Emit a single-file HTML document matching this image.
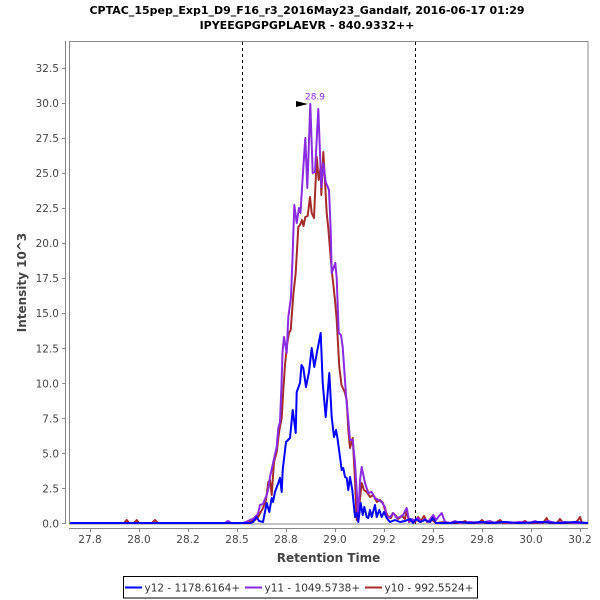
<!DOCTYPE html>
<html>
<head>
<meta charset="utf-8">
<style>
  html, body { margin:0; padding:0; background:#fff; }
  svg { display:block; }
  text { font-family: "DejaVu Sans", "Liberation Sans", sans-serif; }
</style>
</head>
<body>
<svg width="600" height="600" viewBox="0 0 600 600" xmlns="http://www.w3.org/2000/svg">
  <rect x="0" y="0" width="600" height="600" fill="#fff"/>

  <!-- Titles -->
  <text x="307" y="14" text-anchor="middle" font-size="11" font-weight="bold" fill="#000">CPTAC_15pep_Exp1_D9_F16_r3_2016May23_Gandalf, 2016-06-17 01:29</text>
  <text x="307" y="29" text-anchor="middle" font-size="11" font-weight="bold" fill="#000">IPYEEGPGPGPLAEVR - 840.9332++</text>

  <!-- plot outline -->
  <rect x="69.5" y="41.5" width="518.5" height="482.5" fill="#fff" stroke="#888" stroke-width="1"/>

  <!-- axis lines -->
  <line x1="65.5" y1="41" x2="65.5" y2="524" stroke="#888" stroke-width="1"/>
  <line x1="69" y1="528.5" x2="588" y2="528.5" stroke="#888" stroke-width="1"/>

  <!-- Y ticks -->
  <g stroke="#888" stroke-width="1">
    <line x1="62" y1="523.5" x2="65" y2="523.5"/>
    <line x1="62" y1="488.5" x2="65" y2="488.5"/>
    <line x1="62" y1="453.5" x2="65" y2="453.5"/>
    <line x1="62" y1="418.5" x2="65" y2="418.5"/>
    <line x1="62" y1="383.5" x2="65" y2="383.5"/>
    <line x1="62" y1="348.5" x2="65" y2="348.5"/>
    <line x1="62" y1="313.5" x2="65" y2="313.5"/>
    <line x1="62" y1="278.5" x2="65" y2="278.5"/>
    <line x1="62" y1="243.5" x2="65" y2="243.5"/>
    <line x1="62" y1="208.5" x2="65" y2="208.5"/>
    <line x1="62" y1="173.5" x2="65" y2="173.5"/>
    <line x1="62" y1="138.5" x2="65" y2="138.5"/>
    <line x1="62" y1="103.5" x2="65" y2="103.5"/>
    <line x1="62" y1="68.5" x2="65" y2="68.5"/>
  </g>
  <g font-size="10.5" fill="#444" text-anchor="end">
    <text x="59" y="527.5">0.0</text>
    <text x="59" y="492.5">2.5</text>
    <text x="59" y="457.4">5.0</text>
    <text x="59" y="422.4">7.5</text>
    <text x="59" y="387.3">10.0</text>
    <text x="59" y="352.3">12.5</text>
    <text x="59" y="317.2">15.0</text>
    <text x="59" y="282.2">17.5</text>
    <text x="59" y="247.1">20.0</text>
    <text x="59" y="212.1">22.5</text>
    <text x="59" y="177">25.0</text>
    <text x="59" y="142">27.5</text>
    <text x="59" y="106.9">30.0</text>
    <text x="59" y="71.9">32.5</text>
  </g>

  <!-- X ticks -->
  <g stroke="#888" stroke-width="1">
    <line x1="90.5" y1="528" x2="90.5" y2="532"/>
    <line x1="139.5" y1="528" x2="139.5" y2="532"/>
    <line x1="188.5" y1="528" x2="188.5" y2="532"/>
    <line x1="237.5" y1="528" x2="237.5" y2="532"/>
    <line x1="286.5" y1="528" x2="286.5" y2="532"/>
    <line x1="335.5" y1="528" x2="335.5" y2="532"/>
    <line x1="384.5" y1="528" x2="384.5" y2="532"/>
    <line x1="433.5" y1="528" x2="433.5" y2="532"/>
    <line x1="482.5" y1="528" x2="482.5" y2="532"/>
    <line x1="531.5" y1="528" x2="531.5" y2="532"/>
    <line x1="580.5" y1="528" x2="580.5" y2="532"/>
  </g>
  <g font-size="10.5" fill="#444" text-anchor="middle">
    <text x="90" y="543">27.8</text>
    <text x="139" y="543">28.0</text>
    <text x="188" y="543">28.2</text>
    <text x="237" y="543">28.5</text>
    <text x="286" y="543">28.8</text>
    <text x="335" y="543">29.0</text>
    <text x="384" y="543">29.2</text>
    <text x="433" y="543">29.5</text>
    <text x="482" y="543">29.8</text>
    <text x="531" y="543">30.0</text>
    <text x="580" y="543">30.2</text>
  </g>

  <!-- Axis titles -->
  <text x="328.5" y="562" text-anchor="middle" font-size="12" font-weight="bold" fill="#444">Retention Time</text>
  <text transform="translate(26,282.5) rotate(-90)" text-anchor="middle" font-size="12" font-weight="bold" fill="#444">Intensity 10^3</text>

  <!-- dashed markers -->
  <line x1="242.5" y1="42" x2="242.5" y2="524" stroke="#000" stroke-width="1" stroke-dasharray="3,3"/>
  <line x1="415.5" y1="42" x2="415.5" y2="524" stroke="#000" stroke-width="1" stroke-dasharray="3,3"/>

  <defs>
    <clipPath id="pc"><rect x="70" y="42" width="518" height="483"/></clipPath>
  </defs>

  <g clip-path="url(#pc)" fill="none" stroke-width="2" stroke-linejoin="round" stroke-linecap="round">
    <!-- y10 red -->
    <polyline stroke="#a52a2a" points="69,523 124,523 126.7,520 129,523 134,523 136.7,520 139,523 152,523 155,520 158,523 245,523 250,522 255,520 258,517 263,508 266,500 268.3,482 270,480 271.7,495 274,462 276.7,452 279.3,430 281.7,418 283.3,390 285,365 287,345 289,333 290.7,330 293.3,295 295.7,273 298.3,227 300,225 302,220 303.5,226 305.3,217 307.7,216 310,197 311.7,213 314,218 316.7,157 318.7,180 320.7,167 321.3,195 323.3,152 325,182 326.7,213 328.3,228 331.7,270 335,300 336.7,320 339.3,367 341.5,385 345,393 346.7,400 348.3,430 350,448 352.7,438 355,480 356.7,520 359,508 361.7,483 364,490 366.7,492 370,497 373.3,495 376.7,502 380,500 383,503 385,510 388.3,517 391,518 393,513 396,516 398,519 402,516 405,519 406.7,510 409,522 412,520 415,522 418,517 421,521 424,516 427,522 432,520 436,523 445,522 450,523 460,523 465,521 468,523 478,523 482,520 485,523 495,523 500,520 503,523 520,523 525,521 528,523 543,523 546.7,518 549,523 557,523 560,519 563,523 575,523 578,520 580,517 582,523 588,523"/>
    <!-- y11 purple -->
    <polyline stroke="#8a2be2" points="69,523 225,523 228,521 231,523 240,523 243,523 246,522 250,520 253,519 256,516 258,514 260,505 263,504 266.7,495 268,490 270,477 273.3,462 276.7,447 278.3,428 280,422 281.5,385 282.5,352 284,337 286.7,353 288.3,317 291,297 292.7,253 294.3,205 296.7,223 299,208 300.5,213 302.7,177 305.3,138 307.3,188 310.3,104 312.7,173 315,172 318.3,109 321.3,187 323.3,163 325.7,182 329,190 330.7,230 331.7,273 335.3,263 336.7,278 338.7,333 341,335 342.7,347 344.3,370 346,395 348.3,420 350,440 352.7,440 355,463 358.3,517 360,480 361.7,467 365,483 368.3,493 371.7,492 375,498 378.3,500 381.7,502 385,507 386.7,517 390,517 393.3,513 396.7,518 400,517 403,515 406.7,508 409.3,522 412,519 415,521 418,518 421,522 425,519 428,522 433.3,515 436,520 438.3,517 441.7,513 445,522 450,523 455,521 460,523 470,522 480,523 490,521 495,523 505,522 512,523 520,522 530,523 535,521 540,523 548,521 555,523 565,522 575,523 588,523"/>
    <!-- y12 blue -->
    <polyline stroke="#0000ff" points="69,523 250,523 253,522 256.7,517 259,521 263,522 266.7,503 269.3,512 271.7,498 273,502 275,492 278.3,483 280,478 281.7,492 282.7,470 286,442 288,440 290,438 292.7,410 294.3,422 295.7,433 296.7,392 300,383 301.5,365 303.3,368 306,387 309,372 311.7,348 314.3,367 317,352 320.7,333 322.7,383 325.7,417 329.3,373 331.7,417 334,437 336,430 337.3,437 340,457 341.7,470 343.3,468 345,477 346.7,478 348.3,490 350,477 352.3,490 355,517 356.7,513 358.3,522 360.7,503 362.7,515 364.3,507 366.7,517 368.3,518 370,510 371.7,517 375,505 376.7,517 379.3,510 381.7,517 384,512 386.7,518 390,522 395,520 400,522 405,521 410,519 413,523 416,519 420,522 425,520 430,522 433,518 436,523 450,523 460,522 470,523 480,522 490,523 505,522 520,523 540,522 560,523 575,522 588,523"/>
  </g>

  <!-- annotation -->
  <line x1="296" y1="104" x2="306" y2="104" stroke="#000" stroke-width="1"/>
  <polygon points="296,101 296,107 308,104" fill="#000"/>
  <text x="315" y="99.5" text-anchor="middle" font-size="9" fill="#8a2be2">28.9</text>

  <!-- Legend -->
  <rect x="123.5" y="576.5" width="354" height="21.5" fill="#fff" stroke="#000" stroke-width="1"/>
  <line x1="125" y1="587.5" x2="142" y2="587.5" stroke="#0000ff" stroke-width="2"/>
  <text x="144.5" y="591.5" font-size="10.5" fill="#333">y12 - 1178.6164+</text>
  <line x1="245" y1="587.5" x2="262" y2="587.5" stroke="#8a2be2" stroke-width="2"/>
  <text x="264.5" y="591.5" font-size="10.5" fill="#333">y11 - 1049.5738+</text>
  <line x1="365" y1="587.5" x2="382" y2="587.5" stroke="#a52a2a" stroke-width="2"/>
  <text x="384.5" y="591.5" font-size="10.5" fill="#333">y10 - 992.5524+</text>
</svg>
</body>
</html>
